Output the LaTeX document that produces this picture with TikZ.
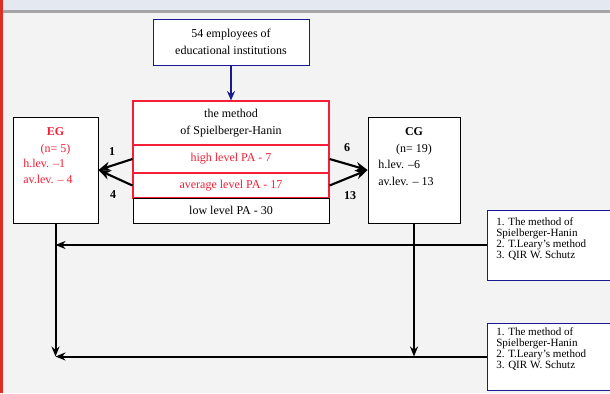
\documentclass[tikz,border=0pt]{standalone}
\usepackage{fontspec}
\setmainfont{Liberation Serif}
\usetikzlibrary{arrows.meta}

\definecolor{slidebg}{RGB}{243,243,243}
\definecolor{bandbg}{RGB}{228,233,241}
\definecolor{bandline}{RGB}{165,165,165}
\definecolor{barred}{RGB}{222,45,35}
\definecolor{pared}{RGB}{245,30,55}
\definecolor{navy}{RGB}{25,25,145}

\tikzset{
  cell/.style={draw, fill=white, line width=0.7pt, inner sep=0pt,
    font=\fontsize{9}{12.5}\selectfont, align=center},
  redcell/.style={cell, draw=pared, line width=0.85pt},
  txt/.style={inner sep=0pt, font=\fontsize{9}{12.5}\selectfont},
  num/.style={inner sep=0pt, font=\fontsize{9}{11}\selectfont\bfseries},
  small/.style={inner sep=0pt, font=\fontsize{8.3}{8.4}\selectfont, align=left},
  split/.style={line width=1.6pt, -{Stealth[length=9pt,width=7pt]}},
  flow/.style={line width=1.5pt, -{Stealth[length=7.5pt,width=6pt]}},
}

\begin{document}
\begin{tikzpicture}[x=0.75pt, y=-0.75pt]
    \useasboundingbox (0,0) rectangle (610,393);
    \clip (0,0) rectangle (610,393);
    \fill[slidebg] (0,0) rectangle (610,393);
    \fill[bandbg] (0,0) rectangle (610,10);
    \fill[bandline] (0,10) rectangle (610,13);
    \fill[barred] (0,0) rectangle (3,393);

    \node[cell, draw=navy, minimum width=117pt, minimum height=34.5pt] (staff) at (231,42) {54 employees of\\educational institutions};

    \node[redcell, minimum width=147pt, minimum height=33pt] (method) at (231,123) {the method\\of Spielberger-Hanin};
    \node[redcell, text=pared, minimum width=147pt, minimum height=21pt] (high) at (231,159) {high level PA - 7};
    \node[redcell, text=pared, minimum width=147pt, minimum height=18.75pt] (average) at (231,185.5) {average level PA - 17};
    \node[cell, minimum width=147pt, minimum height=18.75pt] (low) at (231,210.5) {low level PA - 30};

    \draw[navy, line width=1.6pt, -{Stealth[length=7pt,width=6pt]}] (staff) -- (method);

    % groups
    \node[cell, minimum width=63.75pt, minimum height=79.5pt] (eg) at (55.5,170) {};
    \node[txt, text=pared, align=center] (egtitle) at (55.5,141) {\textbf{EG}\\(n= 5)};
    \node[txt, text=pared, align=left, anchor=west] (eglevels) at (23,171.5) {h.lev. –1\\av.lev. – 4};

    \node[cell, minimum width=69pt, minimum height=79.5pt] (cg) at (414,170) {};
    \node[txt, align=center] (cgtitle) at (414,141) {\textbf{CG}\\(n= 19)};
    \node[txt, align=left, anchor=west] (cglevels) at (378,173) {h.lev. –6\\av.lev. – 13};

    \draw[split] (high.west) -- (eg.east);
    \draw[split] (average.west) -- (eg.east);
    \draw[split] (high.east) -- (cg.west);
    \draw[split] (average.east) -- (cg.west);

    \node[num] (n1) at (112,152) {1};
    \node[num] (n4) at (113,195) {4};
    \node[num] (n6) at (347,148) {6};
    \node[num] (n13) at (350,196) {13};

    % test batteries
    \node[cell, draw=navy, minimum width=114.75pt, minimum height=52.5pt] (test1) at (563.5,245) {};
    \node[small, anchor=north west] (test1list) at (496,217) {1. The method of\\Spielberger-Hanin\\2. T.Leary's method\\3. QIR W. Schutz};
    \node[cell, draw=navy, minimum width=114.75pt, minimum height=50.25pt] (test2) at (563.5,356.5) {};
    \node[small, anchor=north west] (test2list) at (496,327) {1. The method of\\Spielberger-Hanin\\2. T.Leary's method\\3. QIR W. Schutz};

    \coordinate (egmid) at (eg.south |- test1.west);
    \coordinate (egbot) at (eg.south |- test2.west);
    \coordinate (cgbot) at (cg.south |- test2.west);
    \draw[flow] (test1.west) -- (egmid);
    \draw[flow] (eg.south) -- (egbot);
    \draw[flow] (test2.west) -- (egbot);
    \draw[flow] (cg.south) -- (cgbot);
\end{tikzpicture}
\end{document}
